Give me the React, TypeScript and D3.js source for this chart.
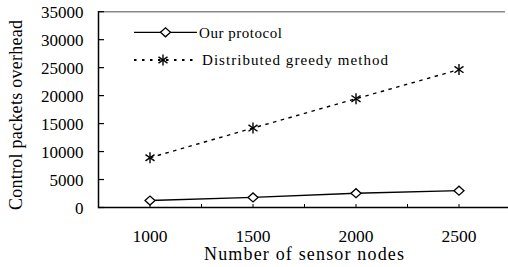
import React from "react";
import * as d3 from "d3";

const categories = ["1000", "1500", "2000", "2500"];
const ourProtocol = [1250, 1800, 2550, 3000];
const greedy = [8900, 14200, 19450, 24650];
const yTicks = [0, 5000, 10000, 15000, 20000, 25000, 30000, 35000];
const seriesNames = ["Our protocol", "Distributed greedy method"];
const xTitle = "Number of sensor nodes";
const yTitle = "Control packets overhead";

const W = 508;
const H = 267;
const left = 98.5;
const top = 11.7;
const bottom = 207.5;
const font = "'Liberation Serif', 'Times New Roman', serif";

export default function App() {
  const x = d3.scaleBand<string>().domain(categories).range([left, left + 4 * 103]).padding(0);
  const bw = x.bandwidth();
  const cx = (c: string) => (x(c) as number) + bw / 2;
  const y = d3.scaleLinear().domain([0, 35000]).range([bottom, top]);

  const line = d3
    .line<number>()
    .x((_, i) => cx(categories[i]))
    .y((d) => y(d));

  const xTickPos: number[] = [];
  categories.forEach((c) => {
    xTickPos.push(cx(c));
    if (c !== categories[0]) xTickPos.push(x(c) as number);
  });
  xTickPos.push((x(categories[3]) as number) + bw);

  const diamond = (px: number, py: number, k: string) => (
    <path
      key={k}
      d={`M${px - 5},${py} L${px},${py - 4.5} L${px + 5},${py} L${px},${py + 4.5} Z`}
      fill="#fff"
      stroke="#000"
      strokeWidth={1.3}
    />
  );
  const star = (px: number, py: number, k: string) => {
    const r = 5.5;
    const angs = [90, 35, 145];
    return (
      <g key={k} stroke="#000" strokeWidth={1.4}>
        {angs.map((a) => {
          const rad = (a * Math.PI) / 180;
          const dx = r * Math.cos(rad);
          const dy = r * Math.sin(rad);
          return <line key={a} x1={px - dx} y1={py - dy} x2={px + dx} y2={py + dy} />;
        })}
      </g>
    );
  };

  return (
    <svg
      width={W}
      height={H}
      style={{ position: "absolute", left: 0, top: 0, background: "#fff" }}
      fontFamily={font}
    >
      <rect x={0} y={0} width={W} height={H} fill="#fff" />
      <line x1={left} x2={505} y1={top} y2={top} stroke="#888" strokeWidth={1.5} />
      <line x1={left} x2={left} y1={top - 0.7} y2={bottom + 0.7} stroke="#000" strokeWidth={1.5} />
      {yTicks.map((t) => (
        <g key={t}>
          <line x1={left} x2={left + 5.5} y1={y(t)} y2={y(t)} stroke="#000" strokeWidth={1.2} />
          <text x={83.5} y={y(t) + 6} textAnchor="end" fontSize={17} fill="#000">
            {t}
          </text>
        </g>
      ))}
      <line x1={left} x2={W} y1={bottom} y2={bottom} stroke="#000" strokeWidth={1.5} />
      {xTickPos.map((p, i) => (
        <line key={i} x1={p} x2={p} y1={bottom} y2={bottom - 3.5} stroke="#000" strokeWidth={1} />
      ))}
      {categories.map((c) => (
        <text key={c} x={cx(c)} y={241.5} textAnchor="middle" fontSize={17.5} fill="#000">
          {c}
        </text>
      ))}
      <text x={304} y={260} textAnchor="middle" fontSize={18} textLength={200} lengthAdjust="spacing" fill="#000">
        {xTitle}
      </text>
      <text
        transform={`translate(22,115) rotate(-90)`}
        textAnchor="middle"
        fontSize={18}
        textLength={190}
        lengthAdjust="spacing"
        fill="#000"
      >
        {yTitle}
      </text>
      <path d={line(greedy) || ""} fill="none" stroke="#000" strokeWidth={1.4} strokeDasharray="3.5 4.5" />
      <path d={line(ourProtocol) || ""} fill="none" stroke="#000" strokeWidth={1.3} />
      {ourProtocol.map((v, i) => diamond(cx(categories[i]), y(v), "d" + i))}
      {greedy.map((v, i) => star(cx(categories[i]), y(v), "s" + i))}
      <line x1={134} x2={197} y1={32.3} y2={32.3} stroke="#000" strokeWidth={1.3} />
      {diamond(165.5, 32.3, "ld")}
      <text x={199} y={37.5} fontSize={15} textLength={83} lengthAdjust="spacing" fill="#000">
        {seriesNames[0]}
      </text>
      <line x1={134} x2={197} y1={60} y2={60} stroke="#000" strokeWidth={1.8} strokeDasharray="2.5 5.5" />
      {star(163, 60, "ls")}
      <text x={202} y={65} fontSize={15} textLength={186} lengthAdjust="spacing" fill="#000">
        {seriesNames[1]}
      </text>
    </svg>
  );
}
